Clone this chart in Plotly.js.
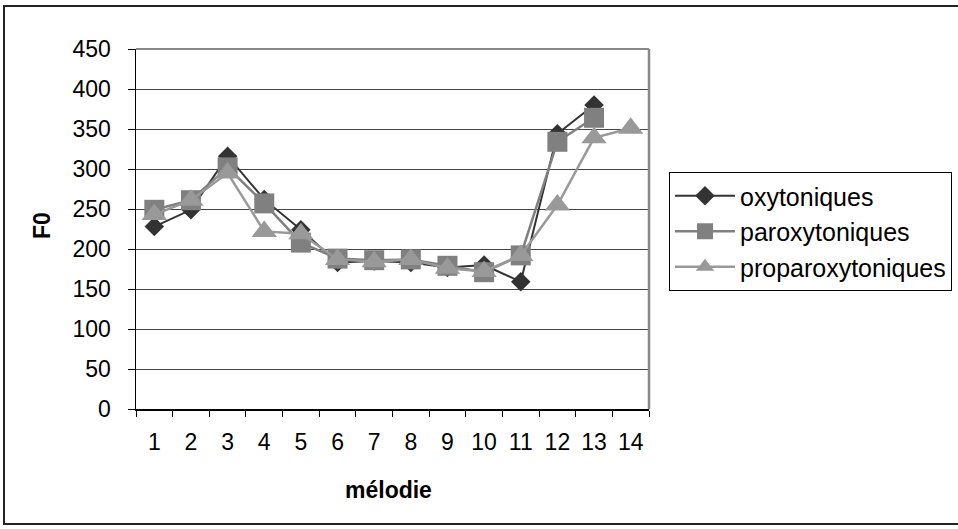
<!DOCTYPE html>
<html>
<head>
<meta charset="utf-8">
<script src="https://cdn.plot.ly/plotly-3.0.1.min.js"></script>
<style>
html,body{margin:0;padding:0;background:#fff;}
#chart{width:958px;height:529px;}
</style>
</head>
<body>
<div id="chart"></div>
<script>
const categories = ["1","2","3","4","5","6","7","8","9","10","11","12","13","14"];
const oxytoniques = [228, 249, 316, 262, 224, 183, 185, 183, 177, 180, 159, 344, 380];
const paroxytoniques = [249, 261, 302, 257, 208, 188, 186, 187, 179, 171, 192, 334, 364];
const proparoxytoniques = [243, 261, 295, 222, 219, 187, 184, 187, 176, 172, 192, 255, 339, 351];
const seriesNames = ["oxytoniques", "paroxytoniques", "proparoxytoniques"];
const yTickVals = [0, 50, 100, 150, 200, 250, 300, 350, 400, 450];

const FONT = "Liberation Sans, Arial, sans-serif";

const traces = [
  {
    x: categories.slice(0, oxytoniques.length), y: oxytoniques, name: seriesNames[0],
    type: "scatter", mode: "lines+markers",
    line: {color: "#333333", width: 2},
    marker: {symbol: "diamond", size: 15, color: "#333333"}
  },
  {
    x: categories.slice(0, paroxytoniques.length), y: paroxytoniques, name: seriesNames[1],
    type: "scatter", mode: "lines+markers",
    line: {color: "#808080", width: 2.5},
    marker: {symbol: "square", size: 20, color: "#808080"}
  },
  {
    x: categories.slice(0, proparoxytoniques.length), y: proparoxytoniques, name: seriesNames[2],
    type: "scatter", mode: "lines+markers",
    line: {color: "#999999", width: 2.5},
    marker: {symbol: "triangle-up", size: 22, color: "#999999"}
  }
];

const L = 136, R = 649, T = 49, B = 409, W = 958, H = 529;
const pw = R - L, ph = B - T;
const px = v => (v - L) / pw;
const py = v => (B - v) / ph;

const layout = {
  width: W, height: H,
  margin: {l: L, r: W - R, t: T, b: H - B, pad: 0, autoexpand: false},
  paper_bgcolor: "#ffffff",
  plot_bgcolor: "#ffffff",
  font: {family: FONT, color: "#000000", size: 23},
  showlegend: true,
  legend: {
    x: px(669), y: py(172), xanchor: "left", yanchor: "top",
    bordercolor: "#000000", borderwidth: 1, bgcolor: "#ffffff",
    font: {family: FONT, size: 25, color: "#000000"},
    tracegroupgap: 0, itemwidth: 60
  },
  xaxis: {
    type: "category",
    categoryorder: "array", categoryarray: categories,
    range: [-0.5, 13.5],
    tickson: "boundaries",
    ticks: "outside", ticklen: 6, tickcolor: "#000000", tickwidth: 1,
    showline: true, linecolor: "#000000", linewidth: 1.5,
    showgrid: false, zeroline: false,
    tickfont: {family: FONT, size: 23, color: "#000000"},
    ticklabelstandoff: 12,
    automargin: false,
    fixedrange: true
  },
  yaxis: {
    range: [0, 450],
    tickvals: yTickVals, ticktext: yTickVals.map(String),
    ticks: "outside", ticklen: 7, tickcolor: "#000000", tickwidth: 1,
    showline: true, linecolor: "#000000", linewidth: 1.5,
    showgrid: true, gridcolor: "#444444", gridwidth: 1,
    zeroline: false,
    tickfont: {family: FONT, size: 23, color: "#000000"},
    ticklabelstandoff: 12,
    automargin: false,
    fixedrange: true
  },
  shapes: [
    {type: "line", xref: "paper", yref: "paper", x0: 0, x1: 1, y0: 1, y1: 1,
     line: {color: "#888888", width: 2}, layer: "above"},
    {type: "line", xref: "paper", yref: "paper", x0: 1, x1: 1, y0: 0, y1: 1,
     line: {color: "#888888", width: 2.5}, layer: "above"},
    {type: "rect", xref: "paper", yref: "paper",
     x0: px(4), x1: px(975), y0: py(524), y1: py(6),
     line: {color: "#222222", width: 2}, fillcolor: "rgba(0,0,0,0)", layer: "below"}
  ],
  annotations: [
    {text: "<b>F0</b>", xref: "paper", yref: "paper", x: px(42), y: py(226),
     xanchor: "center", yanchor: "middle", showarrow: false, textangle: -90,
     font: {family: FONT, size: 23, color: "#000000"}},
    {text: "<b>mélodie</b>", xref: "paper", yref: "paper", x: px(388), y: py(490),
     xanchor: "center", yanchor: "middle", showarrow: false,
     font: {family: FONT, size: 23, color: "#000000"}}
  ]
};

Plotly.newPlot("chart", traces, layout, {displayModeBar: false, staticPlot: true});
</script>
</body>
</html>
